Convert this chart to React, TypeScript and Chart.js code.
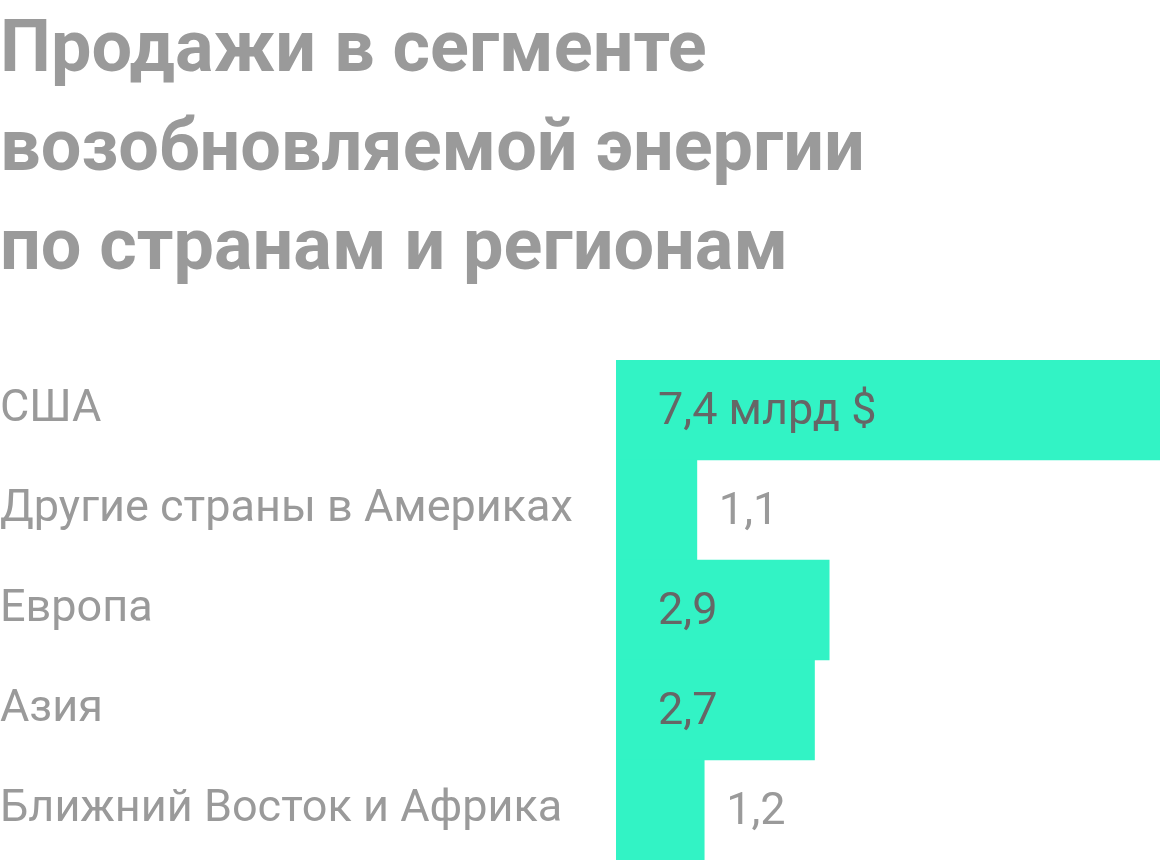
import { useEffect, useRef } from "react"
import { Chart, registerables } from "chart.js"

Chart.register(...registerables)

const titleLines = ["Продажи в сегменте", "возобновляемой энергии", "по странам и регионам"]
const regions = ["США", "Другие страны в Америках", "Европа", "Азия", "Ближний Восток и Африка"]
const sales = [7.4, 1.1, 2.9, 2.7, 1.2]
const unitSuffix = " млрд $"

const fmt = (v: number) => v.toFixed(1).replace(".", ",")

// value labels: inside the bar when they fit, otherwise just past its end
const valueLabels = {
  id: "valueLabels",
  afterDatasetsDraw(chart: Chart) {
    const ctx = chart.ctx
    const meta = chart.getDatasetMeta(0)
    ctx.save()
    ctx.font = "400 45px Roboto"
    ctx.textBaseline = "alphabetic"
    ctx.textAlign = "left"
    meta.data.forEach((bar: any, i: number) => {
      const text = fmt(sales[i]) + (i === 0 ? unitSuffix : "")
      const w = ctx.measureText(text).width
      const insideX = bar.base + 42
      const fits = insideX + w + 10 <= bar.x
      ctx.fillStyle = fits ? "#666666" : "#9a9a9a"
      ctx.fillText(text, fits ? insideX : bar.x + 22, bar.y + 14)
    })
    ctx.restore()
  },
}

export default function App() {
  const chartRef = useRef<HTMLCanvasElement>(null)
  const chartInstance = useRef<Chart | null>(null)

  useEffect(() => {
    document.body.style.margin = "0"
    if (!chartRef.current) return
    const ctx = chartRef.current.getContext("2d")
    if (!ctx) return

    if (chartInstance.current) chartInstance.current.destroy()

    chartInstance.current = new Chart(ctx, {
      type: "bar",
      data: {
        labels: regions,
        datasets: [
          {
            data: sales,
            backgroundColor: "#32f3c5",
            borderWidth: 0,
            barPercentage: 1,
            categoryPercentage: 1,
          },
        ],
      },
      options: {
        indexAxis: "y",
        responsive: false,
        animation: false,
        layout: { padding: { left: 0, right: 0, top: 0, bottom: 4 } },
        plugins: {
          legend: { display: false },
          tooltip: { enabled: false },
          title: {
            display: true,
            text: titleLines,
            align: "start",
            color: "#9a9a9a",
            font: { family: "Roboto", size: 72, weight: "bold", lineHeight: "99px" },
            padding: { top: 3, bottom: 60 },
          },
        },
        scales: {
          x: { display: false, min: 0, max: 7.4 },
          y: {
            grid: { display: false },
            border: { display: false },
            ticks: {
              crossAlign: "far",
              padding: 0,
              color: "#9a9a9a",
              font: { family: "Roboto", size: 45 },
            },
            afterFit: (scale: any) => {
              scale.width = 616
              scale.paddingTop = 0
              scale.paddingBottom = 0
            },
          },
        },
      },
      plugins: [valueLabels],
    })

    return () => {
      if (chartInstance.current) {
        chartInstance.current.destroy()
        chartInstance.current = null
      }
    }
  }, [])

  return (
    <div style={{ width: 1160, height: 864 }}>
      <canvas ref={chartRef} width={1160} height={864} />
    </div>
  )
}
